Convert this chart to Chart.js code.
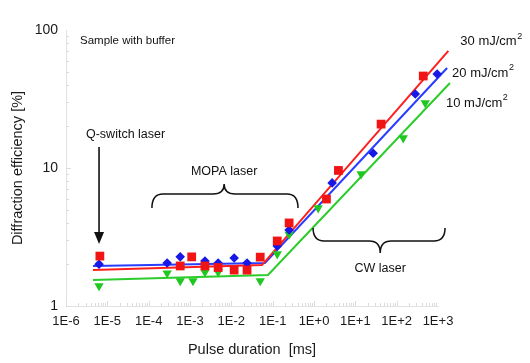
<!DOCTYPE html>
<html>
<head>
<meta charset="utf-8">
<script src="https://cdn.jsdelivr.net/npm/chart.js@4/dist/chart.umd.min.js"></script>
<style>
  html, body { margin: 0; padding: 0; background: #fff; }
</style>
</head>
<body>
<canvas id="myChart" width="530" height="363"></canvas>
<script>
// measured points, pulse duration [ms] vs diffraction efficiency [%]
var tau30 = [6.6e-6, 5.8e-4, 1.1e-3, 2.3e-3, 4.8e-3, 1.17e-2, 2.4e-2, 5.0e-2, 0.129, 0.25, 2.0, 3.9, 42, 440, 1420];
var eff30 = [2.3, 1.95, 2.27, 1.95, 1.9, 1.82, 1.82, 2.26, 2.96, 4.0, 5.96, 9.6, 20.8, 46.4, 65];

var tau20 = [6.3e-6, 2.8e-4, 5.8e-4, 2.3e-3, 4.8e-3, 1.17e-2, 2.4e-2, 0.129, 0.25, 2.75, 27, 282, 955];
var eff20 = [2.01, 2.05, 2.27, 2.12, 2.05, 2.23, 2.05, 2.72, 3.55, 7.8, 12.8, 34.4, 48];

var tau10 = [6.3e-6, 2.8e-4, 5.8e-4, 1.18e-3, 2.3e-3, 4.8e-3, 5.0e-2, 0.129, 0.25, 1.26, 13.8, 144, 490];
var eff10 = [1.40, 1.73, 1.52, 1.52, 1.76, 1.76, 1.52, 2.38, 3.3, 5.13, 9.05, 16.5, 29.6];

// fitted curves (flat part, kink, rising part)
var fitTau30 = [4.5e-6, 0.055, 1780];
var fitEff30 = [1.82, 1.98, 70.5];
var fitTau20 = [4.5e-6, 0.065, 1660];
var fitEff20 = [1.95, 2.05, 53];
var fitTau10 = [4.5e-6, 0.077, 1950];
var fitEff10 = [1.54, 1.68, 41.3];

var xTicks = [1e-6, 1e-5, 1e-4, 1e-3, 1e-2, 1e-1, 1e0, 1e1, 1e2, 1e3];
var yTicks = [1, 10, 100];

var seriesLabels = ['30 mJ/cm', '20 mJ/cm', '10 mJ/cm'];

var FONT = '"Liberation Sans", Arial, sans-serif';

function pts(xs, ys) {
  return xs.map(function (x, i) { return { x: x, y: ys[i] }; });
}

var red = '#f01414', blue = '#1818e6', green = '#1fc81f';
var redLine = '#ff1e1e', blueLine = '#2a3cff', greenLine = '#2ccc2c';

function fitSet(xs, ys, c) {
  return { type: 'line', data: pts(xs, ys), borderColor: c, borderWidth: 2, pointRadius: 0,
    fill: false, tension: 0, clip: false, order: 2 };
}
function markSet(xs, ys, c, style, r, rot) {
  return { type: 'scatter', data: pts(xs, ys), backgroundColor: c, borderColor: c, borderWidth: 0,
    pointStyle: style, pointRadius: r, pointRotation: rot || 0, clip: false, order: 1 };
}

// annotations, in data coordinates
var notes = {
  sample: { x: 2.18e-6, y: 83, text: 'Sample with buffer' },
  qswitch: { x: 2.76e-5, y: 17.6, text: 'Q-switch laser' },
  arrow: { x: 6.3e-6, y0: 14.2, y1: 2.81 },
  mopa: { x: 6.7e-3, y: 9.5, text: 'MOPA laser', x0: 1.2e-4, x1: 0.41, yEnd: 5.13, yMid: 6.48, yTip: 7.66 },
  cw: { x: 40, y: 1.88, text: 'CW laser', x0: 0.95, x1: 1480, yEnd: 3.67, yMid: 2.96, yTip: 2.42 },
  labels: [{ x: 3470, y: 83 }, { x: 2190, y: 48.8 }, { x: 1563, y: 29.6 }]
};

function brace(ctx, x0, x1, xt, yEnd, yMid, yTip) {
  var r = 11;
  ctx.beginPath();
  ctx.moveTo(x0, yEnd);
  ctx.quadraticCurveTo(x0, yMid, x0 + r, yMid);
  ctx.lineTo(xt - r, yMid);
  ctx.quadraticCurveTo(xt, yMid, xt, yTip);
  ctx.quadraticCurveTo(xt, yMid, xt + r, yMid);
  ctx.lineTo(x1 - r, yMid);
  ctx.quadraticCurveTo(x1, yMid, x1, yEnd);
  ctx.stroke();
}

var minorTicks = {
  id: 'minorTicks',
  beforeDatasetsDraw: function (chart) {
    var ctx = chart.ctx, xs = chart.scales.x, ys = chart.scales.y, a = chart.chartArea;
    ctx.save();
    ctx.strokeStyle = '#dcdcdc';
    ctx.lineWidth = 1;
    for (var e = -6; e < 3; e++) {
      for (var k = 1; k < 10; k++) {
        var px = Math.round(xs.getPixelForValue(k * Math.pow(10, e))) + 0.5;
        ctx.beginPath();
        ctx.moveTo(px, a.bottom);
        ctx.lineTo(px, a.bottom - (k === 1 ? 5 : 3));
        ctx.stroke();
      }
    }
    for (var e2 = 0; e2 < 2; e2++) {
      for (var k2 = 1; k2 < 10; k2++) {
        var py = Math.round(ys.getPixelForValue(k2 * Math.pow(10, e2))) + 0.5;
        ctx.beginPath();
        ctx.moveTo(a.left, py);
        ctx.lineTo(a.left + (k2 === 1 ? 5 : 3), py);
        ctx.stroke();
      }
    }
    ctx.restore();
  }
};

var notesPlugin = {
  id: 'notes',
  afterDraw: function (chart) {
    var ctx = chart.ctx, xs = chart.scales.x, ys = chart.scales.y;
    function X(v) { return xs.getPixelForValue(v); }
    function Y(v) { return ys.getPixelForValue(v); }
    ctx.save();
    ctx.fillStyle = '#111';
    ctx.strokeStyle = '#111';
    ctx.textBaseline = 'middle';

    ctx.font = '11.5px ' + FONT;
    ctx.textAlign = 'left';
    ctx.fillText(notes.sample.text, X(notes.sample.x), Y(notes.sample.y));

    ctx.font = '12.5px ' + FONT;
    ctx.textAlign = 'center';
    ctx.fillText(notes.qswitch.text, X(notes.qswitch.x), Y(notes.qswitch.y));
    ctx.fillText(notes.mopa.text, X(notes.mopa.x), Y(notes.mopa.y));
    ctx.fillText(notes.cw.text, X(notes.cw.x), Y(notes.cw.y));

    // arrow to Q-switch point
    var ax = X(notes.arrow.x), ay0 = Y(notes.arrow.y0), ay1 = Y(notes.arrow.y1);
    ctx.lineWidth = 1.6;
    ctx.beginPath();
    ctx.moveTo(ax, ay0);
    ctx.lineTo(ax, ay1 - 8);
    ctx.stroke();
    ctx.beginPath();
    ctx.moveTo(ax - 5, ay1 - 12);
    ctx.lineTo(ax + 5, ay1 - 12);
    ctx.lineTo(ax, ay1);
    ctx.closePath();
    ctx.fill();

    ctx.lineWidth = 1.5;
    var m = notes.mopa;
    brace(ctx, X(m.x0), X(m.x1), X(m.x), Y(m.yEnd), Y(m.yMid), Y(m.yTip));
    var c = notes.cw;
    brace(ctx, X(c.x0), X(c.x1), X(c.x), Y(c.yEnd), Y(c.yMid), Y(c.yTip));

    // series labels with superscript
    notes.labels.forEach(function (p, i) {
      var lx = X(p.x), ly = Y(p.y);
      ctx.textAlign = 'left';
      ctx.font = '13px ' + FONT;
      ctx.fillText(seriesLabels[i], lx, ly);
      var w = ctx.measureText(seriesLabels[i]).width;
      ctx.font = '9px ' + FONT;
      ctx.fillText('2', lx + w + 0.5, ly - 5);
    });
    ctx.restore();
  }
};

var ctx = document.getElementById('myChart').getContext('2d');
var myChart = new Chart(ctx, {
  type: 'scatter',
  data: {
    datasets: [
      markSet(tau30, eff30, red, 'rect', 6.2),
      markSet(tau20, eff20, blue, 'rectRot', 4.8),
      markSet(tau10, eff10, green, 'triangle', 5.4, 180),
      fitSet(fitTau30, fitEff30, redLine),
      fitSet(fitTau20, fitEff20, blueLine),
      fitSet(fitTau10, fitEff10, greenLine)
    ]
  },
  plugins: [minorTicks, notesPlugin],
  options: {
    responsive: false,
    animation: false,
    devicePixelRatio: 1,
    layout: { padding: { top: 30, right: 92, left: 0, bottom: 0 } },
    plugins: { legend: { display: false }, tooltip: { enabled: false } },
    scales: {
      x: {
        type: 'logarithmic',
        position: 'bottom',
        min: 1e-6,
        max: 1e3,
        afterBuildTicks: function (s) { s.ticks = xTicks.map(function (v) { return { value: v }; }); },
        afterFit: function (s) { s.height = 57; },
        grid: { display: false, drawTicks: false },
        border: { display: true, color: '#e2e2e2', width: 1 },
        ticks: {
          autoSkip: false, maxRotation: 0, padding: 8, color: '#1a1a1a',
          font: { family: FONT, size: 13 },
          callback: function (v) {
            var e = Math.round(Math.log10(v));
            return '1E' + (e >= 0 ? '+' : '') + e;
          }
        },
        title: { display: true, text: 'Pulse duration  [ms]', color: '#1a1a1a',
          font: { family: FONT, size: 14.5 }, padding: { top: 0, bottom: 4 } }
      },
      y: {
        type: 'logarithmic',
        min: 1,
        max: 100,
        afterBuildTicks: function (s) { s.ticks = yTicks.map(function (v) { return { value: v }; }); },
        afterFit: function (s) { s.width = 66; },
        grid: { display: false, drawTicks: false },
        border: { display: true, color: '#e2e2e2', width: 1 },
        ticks: {
          padding: 8, color: '#1a1a1a',
          font: { family: FONT, size: 14 },
          callback: function (v) { return String(v); }
        },
        title: { display: true, text: 'Diffraction efficiency [%]', color: '#1a1a1a',
          font: { family: FONT, size: 14.5 }, padding: { top: 9, bottom: 0 } }
      }
    }
  }
});
</script>
</body>
</html>
